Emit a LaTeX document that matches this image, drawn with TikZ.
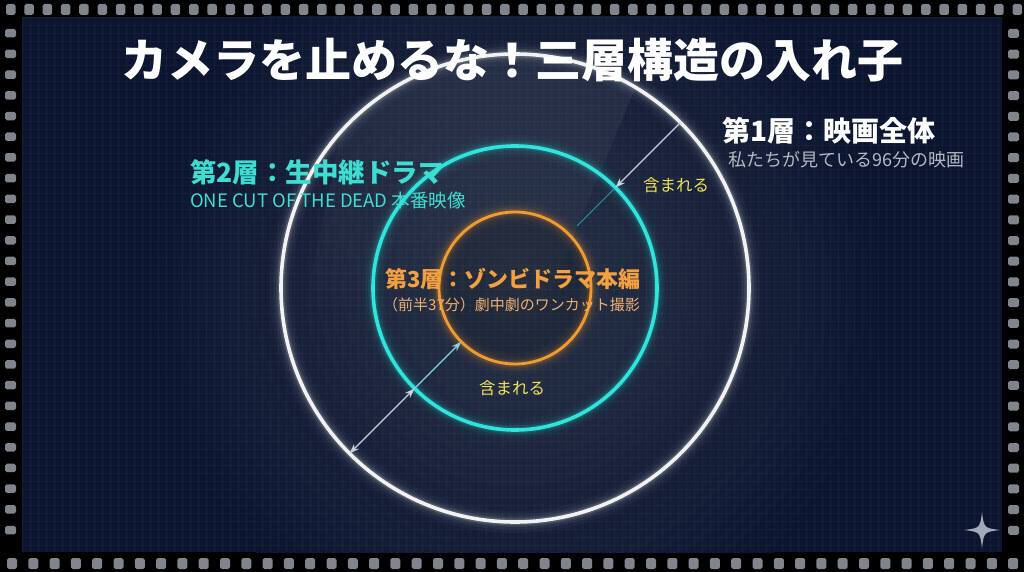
\documentclass[tikz,border=0pt]{standalone}
\usepackage{fontspec}
\setmainfont{Noto Sans CJK JP}
\usetikzlibrary{arrows.meta,fadings}
\definecolor{bgnavy}{HTML}{0B1530}
\definecolor{bgmid}{HTML}{283246}
\definecolor{holec}{HTML}{80848C}
\definecolor{ringw}{HTML}{F2F2F2}
\definecolor{ringc}{HTML}{2EE4DC}
\definecolor{ringo}{HTML}{F39A30}
\definecolor{txtc}{HTML}{3FDCD2}
\definecolor{txto}{HTML}{F5A040}
\definecolor{txto2}{HTML}{F0B070}
\definecolor{txty}{HTML}{F1E05A}
\definecolor{txtg}{HTML}{B4B8C0}
\definecolor{arrg}{HTML}{C8D2DE}
\definecolor{arrc}{HTML}{86D4DA}
\definecolor{starc}{HTML}{A2A9B8}
\tikzset{
  hole/.style={fill=holec, rounded corners=1.8pt},
  ring/.style={circle, inner sep=0pt, outer sep=0pt, draw=#1, line width=3.6pt},
  titletxt/.style={font=\bfseries\fontsize{46}{50}\selectfont, text=white, inner sep=0pt},
  headtxt/.style={font=\bfseries\fontsize{#1}{#1}\selectfont, inner sep=0pt, anchor=west},
  subtxt/.style={font=\fontsize{#1}{#1}\selectfont, inner sep=0pt, anchor=west},
  inctxt/.style={font=\fontsize{16.5}{17}\selectfont, text=txty, inner sep=0pt},
  arrw/.style={draw=arrg, line width=1.2pt, -{Stealth[length=10pt,width=7pt]}},
  arrboth/.style={draw=arrg, line width=1.2pt, {Stealth[length=10pt,width=7pt]}-{Stealth[length=10pt,width=7pt]}},
  arrcy/.style={draw=arrc, line width=1.2pt, -{Stealth[length=10pt,width=7pt]}},
}
\begin{document}
\begin{tikzpicture}[x=1pt,y=-1pt]
\useasboundingbox (0,0) rectangle (1024,572);
% film strip frame
\fill[black] (0,0) rectangle (1024,572);
\foreach \i in {0,...,55} {\fill[hole] (6+18.3*\i,4) rectangle ++(9.5,11);}
\foreach \i in {0,...,47} {\fill[hole] (7+21.3*\i,558) rectangle ++(10,11);}
\foreach \j in {0,...,24} {\fill[hole] (5,29+20.7*\j) rectangle ++(11,8.5);}
\foreach \j in {0,...,24} {\fill[hole] (1008,29+20.7*\j) rectangle ++(11,9);}
% panel
\fill[bgnavy] (22,17) rectangle (1002,552);
\begin{scope}
\clip (22,17) rectangle (1002,552);
\shade[inner color=bgmid, outer color=bgnavy] (515,288) circle (370pt);
\foreach \x in {22,30,...,1002} {\draw[white, opacity=0.035, line width=0.4pt] (\x,17) -- (\x,552);}
\foreach \y in {17,25,...,552} {\draw[white, opacity=0.035, line width=0.4pt] (22,\y) -- (1002,\y);}
% glass reflection
\begin{scope}
\clip (515,288) circle (234pt);
\fill[white, opacity=0.07, path fading=south] (360,40) -- (655,40) -- (535,330) -- (300,330) -- cycle;
\end{scope}
% glows
\foreach \w/\o in {22/0.03, 15/0.05, 10/0.08, 6.5/0.14} {
  \draw[ringw, line width=\w pt, opacity=\o] (515,288) circle (234pt);
  \draw[ringc, line width=\w pt, opacity=\o] (515,288) circle (142pt);
  \draw[ringo, line width=\w pt, opacity=\o] (515,288) circle (76pt);
}
\fill[black, opacity=0.12] (515,288) circle (74pt);
\end{scope}
% rings
\node[ring=ringw, minimum size=468pt] (c1) at (515,288) {};
\node[ring=ringc, minimum size=284pt] (c2) at (515,288) {};
\node[ring=ringo, minimum size=152pt, line width=2.8pt] (c3) at (515,288) {};
% connectors
\draw[arrw] (c1.45) -- (c2.45);
\draw[draw=ringc, line width=1pt, opacity=0.6, shorten >=12pt] (c2.45) -- (c3.45);
\draw[arrboth] (c1.225) -- (c2.225);
\draw[arrcy] (c2.225) -- (c3.225);
% title
\node[titletxt] (title) at (512,60) {カメラを止めるな！三層構造の入れ子};
% layer 1
\node[headtxt=28, text=white] (l1) at (722,131) {第1層：映画全体};
\node[subtxt=18, text=txtg] (l1s) at (728,160) {私たちが見ている96分の映画};
% layer 2
\node[headtxt=26.5, text=txtc] (l2) at (190,172) {第2層：生中継ドラマ};
\node[subtxt=18.5, text=txtc] (l2s) at (190,201) {ONE CUT OF THE DEAD 本番映像};
% layer 3
\node[headtxt=22, text=txto] (l3) at (385,279) {第3層：ゾンビドラマ本編};
\node[subtxt=15, text=txto2] (l3s) at (383,305) {（前半37分）劇中劇のワンカット撮影};
% contained labels
\node[inctxt] (inc1) at (676,185) {含まれる};
\node[inctxt] (inc2) at (512,388) {含まれる};
% sparkle
\fill[starc] (982,512) .. controls (984,528) .. (1000,530) .. controls (984,532) .. (982,548) .. controls (980,532) .. (964,530) .. controls (980,528) .. (982,512) -- cycle;
\end{tikzpicture}
\end{document}
